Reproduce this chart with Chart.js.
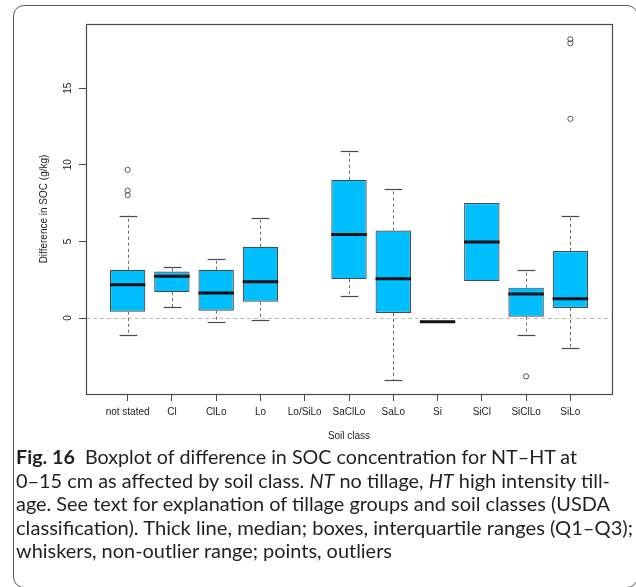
<!DOCTYPE html>
<html>
<head>
<meta charset="utf-8">
<script src="https://cdn.jsdelivr.net/npm/chart.js@4.4.1/dist/chart.umd.min.js"></script>
<style>
  html, body { margin:0; padding:0; background:#fff; }
  body { width:636px; height:587px; position:relative; overflow:hidden; }
  #frame { position:absolute; left:13px; top:5px; width:625px; height:583px; box-sizing:border-box;
           border:1.3px solid #5a5a5a; border-radius:11px; }
  #c { position:absolute; left:0; top:0; }
  .cap { position:absolute; left:15.5px; white-space:nowrap; font-family:Lato, "Open Sans", sans-serif;
         font-size:18.5px; line-height:22.2px; color:#231f20; transform-origin:0 50%; width:max-content; }
  .cap b { font-weight:700; }
</style>
</head>
<body>
<div id="frame"></div>
<canvas id="c" width="636" height="450"></canvas>
<div class="cap" style="top:446px" data-w="561"><b>Fig. 16</b>&nbsp; Boxplot of difference in SOC concentration for NT–HT at</div>
<div class="cap" style="top:470px" data-w="594">0–15 cm as affected by soil class. <i>NT</i> no tillage, <i>HT</i> high intensity till-</div>
<div class="cap" style="top:493.4px" data-w="594">age. See text for explanation of tillage groups and soil classes (USDA</div>
<div class="cap" style="top:516.7px" data-w="617">classification). Thick line, median; boxes, interquartile ranges (Q1–Q3);</div>
<div class="cap" style="top:540px">whiskers, non-outlier range; points, outliers</div>
<script>
// ---- data ----
const categories  = ['not stated','Cl','ClLo','Lo','Lo/SiLo','SaClLo','SaLo','Si','SiCl','SiClLo','SiLo'];
const whiskerLow  = [-1.09, 0.69, -0.28, -0.15, null, 1.41, -4.07, -0.24, 2.41, -1.13, -1.96];
const q1          = [ 0.41, 1.69,  0.48,  1.06, null, 2.54,  0.33, -0.24, 2.41,  0.09,  0.65];
const median      = [ 2.17, 2.72,  1.63,  2.37, null, 5.45,  2.56, -0.24, 4.96,  1.56,  1.26];
const q3          = [ 3.15, 3.04,  3.15,  4.65, null, 9.02,  5.71, -0.24, 7.50,  1.98,  4.37];
const whiskerHigh = [ 6.69, 3.35,  3.87,  6.54, null,10.87,  8.41, -0.24, 7.50,  3.15,  6.69];
const outlierClass = ['not stated','not stated','not stated','SiClLo','SiLo','SiLo','SiLo'];
const outlierValue = [9.67, 8.32, 8.02, -3.81, 13.0, 18.2, 17.93];
const yTicks = [0, 5, 10, 15];
const yTitle = 'Difference in SOC (g/kg)';
const xTitle = 'Soil class';

// ---- build datasets ----
const boxData = [];
categories.forEach((c, i) => {
  if (q1[i] !== null && q3[i] !== q1[i]) boxData.push({x: i + 1, y: [q1[i], q3[i]]});
});
const outData = outlierClass.map((c, k) => ({x: categories.indexOf(c) + 1, y: outlierValue[k]}));

const FG = '#4a4a4a';
const FONT = '"Liberation Sans", Arial, sans-serif';

const boxParts = {
  id: 'boxParts',
  beforeDatasetsDraw(chart) {
    const {ctx, chartArea: a, scales: {x, y}} = chart;
    ctx.save();
    ctx.strokeStyle = '#bfbfbf'; ctx.lineWidth = 1; ctx.setLineDash([4, 3]);
    const y0 = Math.round(y.getPixelForValue(0)) + 0.5;
    ctx.beginPath(); ctx.moveTo(a.left, y0); ctx.lineTo(a.right, y0); ctx.stroke();
    const capHalf = (x.getPixelForValue(1.2) - x.getPixelForValue(1));
    categories.forEach((c, i) => {
      if (q1[i] === null) return;
      const px = Math.round(x.getPixelForValue(i + 1)) + 0.5;
      const segs = [[q3[i], whiskerHigh[i]], [q1[i], whiskerLow[i]]];
      segs.forEach(([from, to]) => {
        if (from === to) return;
        ctx.strokeStyle = '#6a6a6a'; ctx.lineWidth = 1; ctx.setLineDash([3, 3]);
        ctx.beginPath(); ctx.moveTo(px, y.getPixelForValue(from)); ctx.lineTo(px, y.getPixelForValue(to)); ctx.stroke();
        ctx.setLineDash([]); ctx.strokeStyle = FG; ctx.lineWidth = 1.2;
        const py = Math.round(y.getPixelForValue(to)) + 0.5;
        ctx.beginPath(); ctx.moveTo(px - capHalf, py); ctx.lineTo(px + capHalf, py); ctx.stroke();
      });
    });
    ctx.restore();
  },
  afterDatasetsDraw(chart) {
    const {ctx, chartArea: a, scales: {x, y}} = chart;
    ctx.save();
    const boxHalf = (x.getPixelForValue(1.4) - x.getPixelForValue(1));
    ctx.strokeStyle = '#111'; ctx.lineWidth = 3; ctx.lineCap = 'butt';
    categories.forEach((c, i) => {
      if (median[i] === null) return;
      const px = x.getPixelForValue(i + 1);
      const py = y.getPixelForValue(median[i]);
      ctx.beginPath(); ctx.moveTo(px - boxHalf, py); ctx.lineTo(px + boxHalf, py); ctx.stroke();
    });
    ctx.strokeStyle = FG; ctx.lineWidth = 1.2;
    ctx.strokeRect(Math.round(a.left) + 0.5, Math.round(a.top) + 0.5, Math.round(a.width), Math.round(a.height));
    ctx.fillStyle = '#222'; ctx.font = '10px ' + FONT;
    ctx.textAlign = 'center'; ctx.textBaseline = 'middle';
    yTicks.forEach(v => {
      ctx.save();
      ctx.translate(a.left - 17.5, y.getPixelForValue(v));
      ctx.rotate(-Math.PI / 2);
      ctx.fillText(String(v), 0, 0);
      ctx.restore();
    });
    ctx.restore();
  }
};

new Chart(document.getElementById('c'), {
  type: 'bar',
  data: {
    datasets: [
      { type: 'bar', data: boxData, backgroundColor: '#00BFFF', borderColor: FG, borderWidth: 1.2,
        borderSkipped: false, barPercentage: 1, categoryPercentage: 0.8, order: 2 },
      { type: 'scatter', data: outData, pointStyle: 'circle', pointRadius: 2.6, pointBorderWidth: 1,
        pointBorderColor: '#555', pointBackgroundColor: 'rgba(0,0,0,0)', showLine: false, order: 1 }
    ]
  },
  options: {
    responsive: false, animation: false, devicePixelRatio: 1,
    layout: { padding: { left: 0, top: 24, right: 24, bottom: 0 } },
    plugins: { legend: { display: false }, tooltip: { enabled: false } },
    scales: {
      x: {
        type: 'linear', min: 0.06, max: 11.94, offset: false,
        afterBuildTicks: s => { s.ticks = categories.map((c, i) => ({value: i + 1})); },
        afterFit: s => { s.height = 56; },
        ticks: { autoSkip: false, maxRotation: 0, padding: 5, color: '#222',
                 font: { family: FONT, size: 10 }, callback: v => categories[v - 1] },
        grid: { display: true, offset: false, drawOnChartArea: false, drawTicks: true, tickLength: 7, color: FG, lineWidth: 1 },
        border: { display: false },
        title: { display: true, text: xTitle, color: '#222', font: { family: FONT, size: 10 }, padding: { top: 0, bottom: 7.3 } }
      },
      y: {
        type: 'linear', min: -4.96, max: 19.19,
        afterBuildTicks: s => { s.ticks = yTicks.map(v => ({value: v})); },
        afterFit: s => { s.width = 86; },
        ticks: { display: false },
        grid: { display: true, offset: false, drawOnChartArea: false, drawTicks: true, tickLength: 7, color: FG, lineWidth: 1 },
        border: { display: false },
        title: { display: true, text: yTitle, color: '#222', font: { family: FONT, size: 10 }, padding: { top: 38, bottom: 0 } }
      }
    }
  },
  plugins: [boxParts]
});

// fit caption lines to the widths measured on the reference; the last line uses the mean factor
function fitCaption() {
  const els = Array.from(document.querySelectorAll('.cap'));
  const factors = [];
  els.forEach(el => {
    el.style.transform = 'none';
    const w = el.getBoundingClientRect().width;
    if (el.dataset.w && w > 0) {
      const f = parseFloat(el.dataset.w) / w;
      factors.push(f);
      el.style.transform = 'scaleX(' + f.toFixed(4) + ')';
    }
  });
  const mean = factors.reduce((s, v) => s + v, 0) / factors.length;
  els.forEach(el => { if (!el.dataset.w) el.style.transform = 'scaleX(' + mean.toFixed(4) + ')'; });
}
fitCaption();
if (document.fonts && document.fonts.ready) document.fonts.ready.then(fitCaption);
</script>
</body>
</html>
